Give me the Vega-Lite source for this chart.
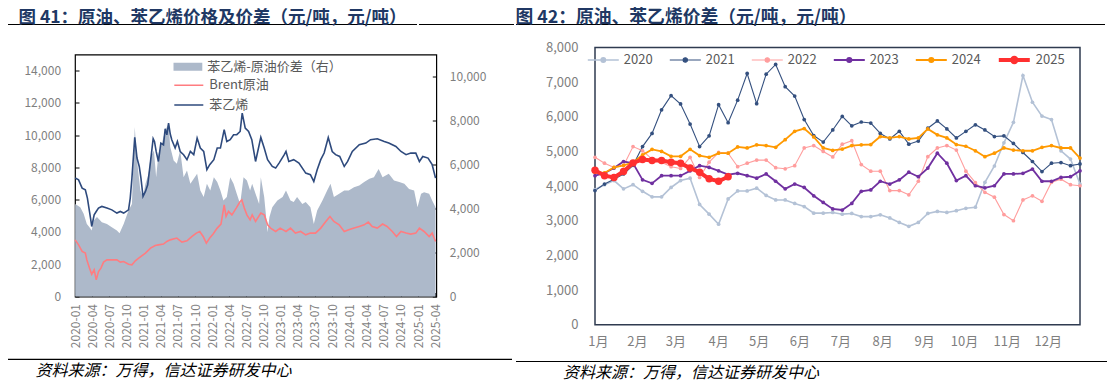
{
  "$schema": "https://vega.github.io/schema/vega-lite/v6.json",
  "padding": {"left": 7, "top": 7.5, "right": 0, "bottom": 0},
  "background": "white",
  "spacing": 0,
  "config": {
    "view": {"stroke": null},
    "font": "Noto Sans CJK SC",
    "axis": {"labelFont": "Noto Sans CJK SC"},
    "legend": {"labelFont": "Noto Sans CJK SC", "padding": 0},
    "title": {"font": "Noto Sans CJK SC"},
    "concat": {"spacing": 0}
  },
  "resolve": {"scale": {"color": "independent", "stroke": "independent", "fill": "independent", "strokeWidth": "independent", "size": "independent"}, "legend": {"color": "independent", "stroke": "independent", "fill": "independent", "strokeWidth": "independent", "size": "independent"}},
  "datasets": {
    "spread": [
      {"date": "2020-01-02", "v": 4210}, {"date": "2020-01-29", "v": 4060}, {"date": "2020-02-16", "v": 3760}, {"date": "2020-03-04", "v": 3300},
      {"date": "2020-03-18", "v": 3150}, {"date": "2020-03-30", "v": 3000}, {"date": "2020-04-09", "v": 3450}, {"date": "2020-04-27", "v": 3610},
      {"date": "2020-05-23", "v": 3380}, {"date": "2020-06-19", "v": 3300}, {"date": "2020-07-15", "v": 3150}, {"date": "2020-08-11", "v": 3000},
      {"date": "2020-08-25", "v": 2880}, {"date": "2020-09-16", "v": 3300}, {"date": "2020-10-12", "v": 3910}, {"date": "2020-10-30", "v": 4210},
      {"date": "2020-11-14", "v": 7700}, {"date": "2020-11-26", "v": 6180}, {"date": "2020-12-14", "v": 4820}, {"date": "2020-12-28", "v": 4520},
      {"date": "2021-01-10", "v": 5120}, {"date": "2021-01-27", "v": 5580}, {"date": "2021-02-06", "v": 6330}, {"date": "2021-02-24", "v": 6640},
      {"date": "2021-03-08", "v": 5420}, {"date": "2021-03-20", "v": 6480}, {"date": "2021-04-07", "v": 6940}, {"date": "2021-04-25", "v": 7550},
      {"date": "2021-05-13", "v": 7850}, {"date": "2021-05-22", "v": 6790}, {"date": "2021-06-09", "v": 6180}, {"date": "2021-06-26", "v": 6030},
      {"date": "2021-07-14", "v": 6640}, {"date": "2021-08-01", "v": 5420}, {"date": "2021-08-19", "v": 5730}, {"date": "2021-09-06", "v": 5120},
      {"date": "2021-09-24", "v": 5350}, {"date": "2021-10-12", "v": 5580}, {"date": "2021-10-29", "v": 4820}, {"date": "2021-11-16", "v": 4520},
      {"date": "2021-12-03", "v": 5120}, {"date": "2021-12-21", "v": 4820}, {"date": "2022-01-09", "v": 5420}, {"date": "2022-01-27", "v": 5200},
      {"date": "2022-02-13", "v": 4820}, {"date": "2022-03-01", "v": 4360}, {"date": "2022-03-19", "v": 4520}, {"date": "2022-04-06", "v": 5420},
      {"date": "2022-04-24", "v": 5120}, {"date": "2022-05-11", "v": 4670}, {"date": "2022-05-29", "v": 4210}, {"date": "2022-06-16", "v": 5420},
      {"date": "2022-07-04", "v": 5270}, {"date": "2022-07-21", "v": 4820}, {"date": "2022-08-01", "v": 5120}, {"date": "2022-08-19", "v": 4670},
      {"date": "2022-09-07", "v": 4210}, {"date": "2022-09-16", "v": 5420}, {"date": "2022-10-04", "v": 4520}, {"date": "2022-10-22", "v": 2920},
      {"date": "2022-11-01", "v": 3610}, {"date": "2022-11-16", "v": 4060}, {"date": "2022-12-13", "v": 4360}, {"date": "2023-01-10", "v": 4520},
      {"date": "2023-01-28", "v": 4820}, {"date": "2023-02-21", "v": 4360}, {"date": "2023-03-10", "v": 4290}, {"date": "2023-03-28", "v": 4520},
      {"date": "2023-04-25", "v": 4210}, {"date": "2023-05-13", "v": 4290}, {"date": "2023-06-07", "v": 4060}, {"date": "2023-06-25", "v": 3300},
      {"date": "2023-07-13", "v": 3910}, {"date": "2023-08-10", "v": 4360}, {"date": "2023-09-04", "v": 4820}, {"date": "2023-09-22", "v": 5120},
      {"date": "2023-10-10", "v": 4520}, {"date": "2023-11-07", "v": 4670}, {"date": "2023-12-04", "v": 4820}, {"date": "2023-12-28", "v": 4820},
      {"date": "2024-01-25", "v": 4970}, {"date": "2024-02-22", "v": 5050}, {"date": "2024-03-19", "v": 5200}, {"date": "2024-04-16", "v": 5350},
      {"date": "2024-05-10", "v": 5420}, {"date": "2024-06-04", "v": 5800}, {"date": "2024-06-25", "v": 5420}, {"date": "2024-07-28", "v": 5580},
      {"date": "2024-08-25", "v": 5270}, {"date": "2024-09-22", "v": 5200}, {"date": "2024-10-19", "v": 5120}, {"date": "2024-11-13", "v": 4890},
      {"date": "2024-12-10", "v": 4820}, {"date": "2024-12-28", "v": 4060}, {"date": "2025-01-16", "v": 4670}, {"date": "2025-02-01", "v": 4740},
      {"date": "2025-02-28", "v": 4670}, {"date": "2025-03-16", "v": 4360}, {"date": "2025-04-03", "v": 4060}
    ],
    "price": [
      {"date": "2020-01-02", "series": "Brent原油", "v": 3510}, {"date": "2020-01-20", "series": "Brent原油", "v": 3200}, {"date": "2020-02-08", "series": "Brent原油", "v": 2790},
      {"date": "2020-02-25", "series": "Brent原油", "v": 2690}, {"date": "2020-03-04", "series": "Brent原油", "v": 2270}, {"date": "2020-03-18", "series": "Brent原油", "v": 1760},
      {"date": "2020-03-30", "series": "Brent原油", "v": 1380}, {"date": "2020-04-12", "series": "Brent原油", "v": 1650}, {"date": "2020-04-23", "series": "Brent原油", "v": 1030},
      {"date": "2020-05-05", "series": "Brent原油", "v": 1550}, {"date": "2020-05-18", "series": "Brent原油", "v": 1760}, {"date": "2020-06-01", "series": "Brent原油", "v": 2130},
      {"date": "2020-06-19", "series": "Brent原油", "v": 2270}, {"date": "2020-07-15", "series": "Brent原油", "v": 2270}, {"date": "2020-08-11", "series": "Brent原油", "v": 2270},
      {"date": "2020-08-29", "series": "Brent原油", "v": 2130}, {"date": "2020-09-16", "series": "Brent原油", "v": 2170}, {"date": "2020-10-12", "series": "Brent原油", "v": 2000},
      {"date": "2020-10-30", "series": "Brent原油", "v": 1960}, {"date": "2020-11-17", "series": "Brent原油", "v": 2210}, {"date": "2020-12-05", "series": "Brent原油", "v": 2380},
      {"date": "2020-12-23", "series": "Brent原油", "v": 2540}, {"date": "2021-01-10", "series": "Brent原油", "v": 2690}, {"date": "2021-02-06", "series": "Brent原油", "v": 3000},
      {"date": "2021-03-03", "series": "Brent原油", "v": 3160}, {"date": "2021-03-20", "series": "Brent原油", "v": 3200}, {"date": "2021-04-16", "series": "Brent原油", "v": 3250},
      {"date": "2021-05-04", "series": "Brent原油", "v": 3410}, {"date": "2021-05-22", "series": "Brent原油", "v": 3510}, {"date": "2021-06-26", "series": "Brent原油", "v": 3620},
      {"date": "2021-07-23", "series": "Brent原油", "v": 3370}, {"date": "2021-08-19", "series": "Brent原油", "v": 3450}, {"date": "2021-09-15", "series": "Brent原油", "v": 3720},
      {"date": "2021-10-08", "series": "Brent原油", "v": 3930}, {"date": "2021-10-26", "series": "Brent原油", "v": 4030}, {"date": "2021-11-13", "series": "Brent原油", "v": 3720},
      {"date": "2021-11-30", "series": "Brent原油", "v": 3310}, {"date": "2021-12-18", "series": "Brent原油", "v": 3620}, {"date": "2022-01-05", "series": "Brent原油", "v": 3870},
      {"date": "2022-01-27", "series": "Brent原油", "v": 4240}, {"date": "2022-02-16", "series": "Brent原油", "v": 4490}, {"date": "2022-03-05", "series": "Brent原油", "v": 5680},
      {"date": "2022-03-15", "series": "Brent原油", "v": 4960}, {"date": "2022-03-28", "series": "Brent原油", "v": 5270}, {"date": "2022-04-15", "series": "Brent原油", "v": 5060},
      {"date": "2022-05-08", "series": "Brent原油", "v": 5480}, {"date": "2022-05-29", "series": "Brent原油", "v": 5890}, {"date": "2022-06-07", "series": "Brent原油", "v": 5990},
      {"date": "2022-06-20", "series": "Brent原油", "v": 5480}, {"date": "2022-07-04", "series": "Brent原油", "v": 5060}, {"date": "2022-07-21", "series": "Brent原油", "v": 4750},
      {"date": "2022-08-01", "series": "Brent原油", "v": 5060}, {"date": "2022-08-19", "series": "Brent原油", "v": 4650}, {"date": "2022-09-16", "series": "Brent原油", "v": 5170},
      {"date": "2022-10-04", "series": "Brent原油", "v": 5060}, {"date": "2022-10-22", "series": "Brent原油", "v": 4440}, {"date": "2022-11-07", "series": "Brent原油", "v": 4240},
      {"date": "2022-12-04", "series": "Brent原油", "v": 4030}, {"date": "2022-12-28", "series": "Brent原油", "v": 4240}, {"date": "2023-01-28", "series": "Brent原油", "v": 4030},
      {"date": "2023-02-21", "series": "Brent原油", "v": 4240}, {"date": "2023-03-19", "series": "Brent原油", "v": 3930}, {"date": "2023-04-16", "series": "Brent原油", "v": 4030},
      {"date": "2023-05-13", "series": "Brent原油", "v": 3820}, {"date": "2023-06-07", "series": "Brent原油", "v": 3930}, {"date": "2023-07-04", "series": "Brent原油", "v": 3930},
      {"date": "2023-08-01", "series": "Brent原油", "v": 4240}, {"date": "2023-08-28", "series": "Brent原油", "v": 4650}, {"date": "2023-09-19", "series": "Brent原油", "v": 4960},
      {"date": "2023-10-10", "series": "Brent原油", "v": 4650}, {"date": "2023-11-07", "series": "Brent原油", "v": 4440}, {"date": "2023-12-04", "series": "Brent原油", "v": 4030},
      {"date": "2023-12-28", "series": "Brent原油", "v": 4130}, {"date": "2024-01-25", "series": "Brent原油", "v": 4240}, {"date": "2024-02-22", "series": "Brent原油", "v": 4340},
      {"date": "2024-03-19", "series": "Brent原油", "v": 4440}, {"date": "2024-04-10", "series": "Brent原油", "v": 4610}, {"date": "2024-05-01", "series": "Brent原油", "v": 4340},
      {"date": "2024-05-28", "series": "Brent原油", "v": 4240}, {"date": "2024-06-25", "series": "Brent原油", "v": 4490}, {"date": "2024-07-19", "series": "Brent原油", "v": 4340},
      {"date": "2024-08-16", "series": "Brent原油", "v": 4030}, {"date": "2024-09-07", "series": "Brent原油", "v": 3720}, {"date": "2024-10-01", "series": "Brent原油", "v": 4030},
      {"date": "2024-10-28", "series": "Brent原油", "v": 3930}, {"date": "2024-11-22", "series": "Brent原油", "v": 3870}, {"date": "2024-12-19", "series": "Brent原油", "v": 3930},
      {"date": "2025-01-07", "series": "Brent原油", "v": 4240}, {"date": "2025-02-01", "series": "Brent原油", "v": 4030}, {"date": "2025-02-28", "series": "Brent原油", "v": 3720},
      {"date": "2025-03-16", "series": "Brent原油", "v": 3930}, {"date": "2025-04-03", "series": "Brent原油", "v": 3410},
      {"date": "2020-01-02", "series": "苯乙烯", "v": 7340}, {"date": "2020-01-20", "series": "苯乙烯", "v": 7230}, {"date": "2020-02-08", "series": "苯乙烯", "v": 6720},
      {"date": "2020-02-25", "series": "苯乙烯", "v": 6610}, {"date": "2020-03-07", "series": "苯乙烯", "v": 6100}, {"date": "2020-03-18", "series": "苯乙烯", "v": 5270},
      {"date": "2020-03-25", "series": "苯乙烯", "v": 4750}, {"date": "2020-03-30", "series": "苯乙烯", "v": 4340}, {"date": "2020-04-12", "series": "苯乙烯", "v": 5060},
      {"date": "2020-04-23", "series": "苯乙烯", "v": 5270}, {"date": "2020-05-05", "series": "苯乙烯", "v": 5480}, {"date": "2020-05-23", "series": "苯乙烯", "v": 5580},
      {"date": "2020-06-19", "series": "苯乙烯", "v": 5480}, {"date": "2020-07-15", "series": "苯乙烯", "v": 5370}, {"date": "2020-08-11", "series": "苯乙烯", "v": 5170},
      {"date": "2020-08-29", "series": "苯乙烯", "v": 5270}, {"date": "2020-09-16", "series": "苯乙烯", "v": 5170}, {"date": "2020-10-12", "series": "苯乙烯", "v": 5370},
      {"date": "2020-10-21", "series": "苯乙烯", "v": 6100}, {"date": "2020-10-30", "series": "苯乙烯", "v": 7340}, {"date": "2020-11-14", "series": "苯乙烯", "v": 9860},
      {"date": "2020-11-26", "series": "苯乙烯", "v": 8580}, {"date": "2020-12-08", "series": "苯乙烯", "v": 8060}, {"date": "2020-12-17", "series": "苯乙烯", "v": 7340},
      {"date": "2020-12-28", "series": "苯乙烯", "v": 6200}, {"date": "2021-01-10", "series": "苯乙烯", "v": 6510}, {"date": "2021-01-22", "series": "苯乙烯", "v": 6920},
      {"date": "2021-02-06", "series": "苯乙烯", "v": 8370}, {"date": "2021-02-20", "series": "苯乙烯", "v": 9780}, {"date": "2021-02-27", "series": "苯乙烯", "v": 9610},
      {"date": "2021-03-08", "series": "苯乙烯", "v": 8990}, {"date": "2021-03-20", "series": "苯乙烯", "v": 8370}, {"date": "2021-04-02", "series": "苯乙烯", "v": 9510},
      {"date": "2021-04-16", "series": "苯乙烯", "v": 9400}, {"date": "2021-04-25", "series": "苯乙烯", "v": 10400}, {"date": "2021-05-04", "series": "苯乙烯", "v": 10020},
      {"date": "2021-05-13", "series": "苯乙烯", "v": 10750}, {"date": "2021-05-22", "series": "苯乙烯", "v": 10070}, {"date": "2021-05-30", "series": "苯乙烯", "v": 9720},
      {"date": "2021-06-17", "series": "苯乙烯", "v": 9200}, {"date": "2021-06-29", "series": "苯乙烯", "v": 9610}, {"date": "2021-07-14", "series": "苯乙烯", "v": 8990},
      {"date": "2021-08-01", "series": "苯乙烯", "v": 8790}, {"date": "2021-08-19", "series": "苯乙烯", "v": 8480}, {"date": "2021-09-06", "series": "苯乙烯", "v": 8990},
      {"date": "2021-09-24", "series": "苯乙烯", "v": 8790}, {"date": "2021-10-12", "series": "苯乙烯", "v": 9820}, {"date": "2021-10-29", "series": "苯乙烯", "v": 9200},
      {"date": "2021-11-16", "series": "苯乙烯", "v": 8990}, {"date": "2021-12-03", "series": "苯乙烯", "v": 7860}, {"date": "2021-12-18", "series": "苯乙烯", "v": 8170},
      {"date": "2022-01-09", "series": "苯乙烯", "v": 8480}, {"date": "2022-01-27", "series": "苯乙烯", "v": 9200}, {"date": "2022-02-13", "series": "苯乙烯", "v": 9200},
      {"date": "2022-03-05", "series": "苯乙烯", "v": 10340}, {"date": "2022-03-19", "series": "苯乙烯", "v": 9610}, {"date": "2022-04-06", "series": "苯乙烯", "v": 9720},
      {"date": "2022-04-24", "series": "苯乙烯", "v": 10030}, {"date": "2022-05-11", "series": "苯乙烯", "v": 10030}, {"date": "2022-05-29", "series": "苯乙烯", "v": 10230},
      {"date": "2022-06-09", "series": "苯乙烯", "v": 11370}, {"date": "2022-06-25", "series": "苯乙烯", "v": 10440}, {"date": "2022-07-13", "series": "苯乙烯", "v": 10230},
      {"date": "2022-07-30", "series": "苯乙烯", "v": 9720}, {"date": "2022-08-19", "series": "苯乙烯", "v": 8370}, {"date": "2022-09-16", "series": "苯乙烯", "v": 9860},
      {"date": "2022-10-04", "series": "苯乙烯", "v": 9200}, {"date": "2022-10-22", "series": "苯乙烯", "v": 8480}, {"date": "2022-11-16", "series": "苯乙烯", "v": 8060},
      {"date": "2022-12-04", "series": "苯乙烯", "v": 7960}, {"date": "2022-12-22", "series": "苯乙烯", "v": 8270}, {"date": "2023-01-19", "series": "苯乙烯", "v": 8790},
      {"date": "2023-01-28", "series": "苯乙烯", "v": 8990}, {"date": "2023-02-12", "series": "苯乙烯", "v": 8370}, {"date": "2023-03-10", "series": "苯乙烯", "v": 8480},
      {"date": "2023-04-07", "series": "苯乙烯", "v": 8270}, {"date": "2023-05-13", "series": "苯乙烯", "v": 7650}, {"date": "2023-06-07", "series": "苯乙烯", "v": 7550},
      {"date": "2023-06-25", "series": "苯乙烯", "v": 7130}, {"date": "2023-07-13", "series": "苯乙烯", "v": 7860}, {"date": "2023-08-01", "series": "苯乙烯", "v": 8480},
      {"date": "2023-08-19", "series": "苯乙烯", "v": 8890}, {"date": "2023-09-10", "series": "苯乙烯", "v": 9860}, {"date": "2023-10-01", "series": "苯乙烯", "v": 8990},
      {"date": "2023-10-19", "series": "苯乙烯", "v": 8790}, {"date": "2023-11-10", "series": "苯乙烯", "v": 8680}, {"date": "2023-12-04", "series": "苯乙烯", "v": 8060},
      {"date": "2023-12-22", "series": "苯乙烯", "v": 8370}, {"date": "2024-01-16", "series": "苯乙烯", "v": 8990}, {"date": "2024-02-22", "series": "苯乙烯", "v": 9410},
      {"date": "2024-03-28", "series": "苯乙烯", "v": 9510}, {"date": "2024-04-22", "series": "苯乙烯", "v": 9720}, {"date": "2024-05-28", "series": "苯乙烯", "v": 9780},
      {"date": "2024-07-04", "series": "苯乙烯", "v": 9610}, {"date": "2024-07-28", "series": "苯乙烯", "v": 9510}, {"date": "2024-09-04", "series": "苯乙烯", "v": 9300},
      {"date": "2024-10-01", "series": "苯乙烯", "v": 8990}, {"date": "2024-10-28", "series": "苯乙烯", "v": 8790}, {"date": "2024-11-22", "series": "苯乙烯", "v": 8890},
      {"date": "2024-12-19", "series": "苯乙烯", "v": 8890}, {"date": "2025-01-07", "series": "苯乙烯", "v": 8370}, {"date": "2025-01-25", "series": "苯乙烯", "v": 8680},
      {"date": "2025-02-22", "series": "苯乙烯", "v": 8580}, {"date": "2025-03-16", "series": "苯乙烯", "v": 8170}, {"date": "2025-04-03", "series": "苯乙烯", "v": 7340}
    ],
    "weekly": [
      {"year": "2020", "week": 1, "v": 3900}, {"year": "2020", "week": 2, "v": 4040}, {"year": "2020", "week": 3, "v": 4160}, {"year": "2020", "week": 4, "v": 3920},
      {"year": "2020", "week": 5, "v": 4040}, {"year": "2020", "week": 6, "v": 3850}, {"year": "2020", "week": 7, "v": 3690}, {"year": "2020", "week": 8, "v": 3690},
      {"year": "2020", "week": 9, "v": 3960}, {"year": "2020", "week": 10, "v": 4160}, {"year": "2020", "week": 11, "v": 4230}, {"year": "2020", "week": 12, "v": 3470},
      {"year": "2020", "week": 13, "v": 3190}, {"year": "2020", "week": 14, "v": 2900}, {"year": "2020", "week": 15, "v": 3630}, {"year": "2020", "week": 16, "v": 3860},
      {"year": "2020", "week": 17, "v": 3860}, {"year": "2020", "week": 18, "v": 3940}, {"year": "2020", "week": 19, "v": 3730}, {"year": "2020", "week": 20, "v": 3600},
      {"year": "2020", "week": 21, "v": 3600}, {"year": "2020", "week": 22, "v": 3500}, {"year": "2020", "week": 23, "v": 3410}, {"year": "2020", "week": 24, "v": 3220},
      {"year": "2020", "week": 25, "v": 3220}, {"year": "2020", "week": 26, "v": 3240}, {"year": "2020", "week": 27, "v": 3190}, {"year": "2020", "week": 28, "v": 3210},
      {"year": "2020", "week": 29, "v": 3120}, {"year": "2020", "week": 30, "v": 3120}, {"year": "2020", "week": 31, "v": 3170}, {"year": "2020", "week": 32, "v": 3080},
      {"year": "2020", "week": 33, "v": 2950}, {"year": "2020", "week": 34, "v": 2840}, {"year": "2020", "week": 35, "v": 2950}, {"year": "2020", "week": 36, "v": 3210},
      {"year": "2020", "week": 37, "v": 3270}, {"year": "2020", "week": 38, "v": 3240}, {"year": "2020", "week": 39, "v": 3290}, {"year": "2020", "week": 40, "v": 3360},
      {"year": "2020", "week": 41, "v": 3390}, {"year": "2020", "week": 42, "v": 4110}, {"year": "2020", "week": 43, "v": 4580}, {"year": "2020", "week": 44, "v": 5250},
      {"year": "2020", "week": 45, "v": 5840}, {"year": "2020", "week": 46, "v": 7190}, {"year": "2020", "week": 47, "v": 6420}, {"year": "2020", "week": 48, "v": 6020},
      {"year": "2020", "week": 49, "v": 5920}, {"year": "2020", "week": 50, "v": 5020}, {"year": "2020", "week": 51, "v": 4780}, {"year": "2020", "week": 52, "v": 4060},
      {"year": "2021", "week": 1, "v": 3870}, {"year": "2021", "week": 2, "v": 4060}, {"year": "2021", "week": 3, "v": 4200}, {"year": "2021", "week": 4, "v": 4350},
      {"year": "2021", "week": 5, "v": 4600}, {"year": "2021", "week": 6, "v": 5140}, {"year": "2021", "week": 7, "v": 5520}, {"year": "2021", "week": 8, "v": 6200},
      {"year": "2021", "week": 9, "v": 6610}, {"year": "2021", "week": 10, "v": 6370}, {"year": "2021", "week": 11, "v": 5790}, {"year": "2021", "week": 12, "v": 5140},
      {"year": "2021", "week": 13, "v": 5450}, {"year": "2021", "week": 14, "v": 6350}, {"year": "2021", "week": 15, "v": 5830}, {"year": "2021", "week": 16, "v": 6480},
      {"year": "2021", "week": 17, "v": 7250}, {"year": "2021", "week": 18, "v": 6380}, {"year": "2021", "week": 19, "v": 7230}, {"year": "2021", "week": 20, "v": 7510},
      {"year": "2021", "week": 21, "v": 6870}, {"year": "2021", "week": 22, "v": 6600}, {"year": "2021", "week": 23, "v": 5920}, {"year": "2021", "week": 24, "v": 5460},
      {"year": "2021", "week": 25, "v": 5270}, {"year": "2021", "week": 26, "v": 5620}, {"year": "2021", "week": 27, "v": 6010}, {"year": "2021", "week": 28, "v": 5740},
      {"year": "2021", "week": 29, "v": 5850}, {"year": "2021", "week": 30, "v": 5820}, {"year": "2021", "week": 31, "v": 5520}, {"year": "2021", "week": 32, "v": 5360},
      {"year": "2021", "week": 33, "v": 5580}, {"year": "2021", "week": 34, "v": 5210}, {"year": "2021", "week": 35, "v": 5300}, {"year": "2021", "week": 36, "v": 5670},
      {"year": "2021", "week": 37, "v": 5880}, {"year": "2021", "week": 38, "v": 5650}, {"year": "2021", "week": 39, "v": 5390}, {"year": "2021", "week": 40, "v": 5580},
      {"year": "2021", "week": 41, "v": 5770}, {"year": "2021", "week": 42, "v": 5620}, {"year": "2021", "week": 43, "v": 5430}, {"year": "2021", "week": 44, "v": 5450},
      {"year": "2021", "week": 45, "v": 5230}, {"year": "2021", "week": 46, "v": 4970}, {"year": "2021", "week": 47, "v": 4710}, {"year": "2021", "week": 48, "v": 4420},
      {"year": "2021", "week": 49, "v": 4660}, {"year": "2021", "week": 50, "v": 4680}, {"year": "2021", "week": 51, "v": 4590}, {"year": "2021", "week": 52, "v": 4640},
      {"year": "2022", "week": 1, "v": 4830}, {"year": "2022", "week": 2, "v": 4660}, {"year": "2022", "week": 3, "v": 4540}, {"year": "2022", "week": 4, "v": 4590},
      {"year": "2022", "week": 5, "v": 5140}, {"year": "2022", "week": 6, "v": 5020}, {"year": "2022", "week": 7, "v": 4780}, {"year": "2022", "week": 8, "v": 4690},
      {"year": "2022", "week": 9, "v": 4560}, {"year": "2022", "week": 10, "v": 4510}, {"year": "2022", "week": 11, "v": 4830}, {"year": "2022", "week": 12, "v": 4250},
      {"year": "2022", "week": 13, "v": 4690}, {"year": "2022", "week": 14, "v": 4970}, {"year": "2022", "week": 15, "v": 4950}, {"year": "2022", "week": 16, "v": 4560},
      {"year": "2022", "week": 17, "v": 4660}, {"year": "2022", "week": 18, "v": 4750}, {"year": "2022", "week": 19, "v": 4750}, {"year": "2022", "week": 20, "v": 4530},
      {"year": "2022", "week": 21, "v": 4500}, {"year": "2022", "week": 22, "v": 4590}, {"year": "2022", "week": 23, "v": 5100}, {"year": "2022", "week": 24, "v": 5170},
      {"year": "2022", "week": 25, "v": 5000}, {"year": "2022", "week": 26, "v": 4840}, {"year": "2022", "week": 27, "v": 5210}, {"year": "2022", "week": 28, "v": 5310},
      {"year": "2022", "week": 29, "v": 4620}, {"year": "2022", "week": 30, "v": 4430}, {"year": "2022", "week": 31, "v": 4430}, {"year": "2022", "week": 32, "v": 3870},
      {"year": "2022", "week": 33, "v": 3870}, {"year": "2022", "week": 34, "v": 3750}, {"year": "2022", "week": 35, "v": 4140}, {"year": "2022", "week": 36, "v": 4850},
      {"year": "2022", "week": 37, "v": 5100}, {"year": "2022", "week": 38, "v": 5170}, {"year": "2022", "week": 39, "v": 5040}, {"year": "2022", "week": 40, "v": 4430},
      {"year": "2022", "week": 41, "v": 4100}, {"year": "2022", "week": 42, "v": 3820}, {"year": "2022", "week": 43, "v": 3680}, {"year": "2022", "week": 44, "v": 3180},
      {"year": "2022", "week": 45, "v": 3000}, {"year": "2022", "week": 46, "v": 3600}, {"year": "2022", "week": 47, "v": 3720}, {"year": "2022", "week": 48, "v": 3560},
      {"year": "2022", "week": 49, "v": 4110}, {"year": "2022", "week": 50, "v": 4200}, {"year": "2022", "week": 51, "v": 4040}, {"year": "2022", "week": 52, "v": 4010},
      {"year": "2023", "week": 1, "v": 4300}, {"year": "2023", "week": 2, "v": 4370}, {"year": "2023", "week": 3, "v": 4520}, {"year": "2023", "week": 4, "v": 4710},
      {"year": "2023", "week": 5, "v": 4660}, {"year": "2023", "week": 6, "v": 4180}, {"year": "2023", "week": 7, "v": 4080}, {"year": "2023", "week": 8, "v": 4300},
      {"year": "2023", "week": 9, "v": 4300}, {"year": "2023", "week": 10, "v": 4300}, {"year": "2023", "week": 11, "v": 4440}, {"year": "2023", "week": 12, "v": 4590},
      {"year": "2023", "week": 13, "v": 4540}, {"year": "2023", "week": 14, "v": 4440}, {"year": "2023", "week": 15, "v": 4330}, {"year": "2023", "week": 16, "v": 4370},
      {"year": "2023", "week": 17, "v": 4300}, {"year": "2023", "week": 18, "v": 4230}, {"year": "2023", "week": 19, "v": 4350}, {"year": "2023", "week": 20, "v": 4140},
      {"year": "2023", "week": 21, "v": 3920}, {"year": "2023", "week": 22, "v": 4060}, {"year": "2023", "week": 23, "v": 3960}, {"year": "2023", "week": 24, "v": 3720},
      {"year": "2023", "week": 25, "v": 3530}, {"year": "2023", "week": 26, "v": 3340}, {"year": "2023", "week": 27, "v": 3310}, {"year": "2023", "week": 28, "v": 3500},
      {"year": "2023", "week": 29, "v": 3850}, {"year": "2023", "week": 30, "v": 3890}, {"year": "2023", "week": 31, "v": 4140}, {"year": "2023", "week": 32, "v": 4060},
      {"year": "2023", "week": 33, "v": 4180}, {"year": "2023", "week": 34, "v": 4400}, {"year": "2023", "week": 35, "v": 4270}, {"year": "2023", "week": 36, "v": 4520},
      {"year": "2023", "week": 37, "v": 4950}, {"year": "2023", "week": 38, "v": 4660}, {"year": "2023", "week": 39, "v": 4160}, {"year": "2023", "week": 40, "v": 4300},
      {"year": "2023", "week": 41, "v": 4010}, {"year": "2023", "week": 42, "v": 3950}, {"year": "2023", "week": 43, "v": 4010}, {"year": "2023", "week": 44, "v": 4350},
      {"year": "2023", "week": 45, "v": 4350}, {"year": "2023", "week": 46, "v": 4370}, {"year": "2023", "week": 47, "v": 4490}, {"year": "2023", "week": 48, "v": 4140},
      {"year": "2023", "week": 49, "v": 4140}, {"year": "2023", "week": 50, "v": 4250}, {"year": "2023", "week": 51, "v": 4270}, {"year": "2023", "week": 52, "v": 4440},
      {"year": "2024", "week": 1, "v": 4400}, {"year": "2024", "week": 2, "v": 4380}, {"year": "2024", "week": 3, "v": 4540}, {"year": "2024", "week": 4, "v": 4600},
      {"year": "2024", "week": 5, "v": 4680}, {"year": "2024", "week": 6, "v": 4900}, {"year": "2024", "week": 7, "v": 5060}, {"year": "2024", "week": 8, "v": 5000},
      {"year": "2024", "week": 9, "v": 4860}, {"year": "2024", "week": 10, "v": 4860}, {"year": "2024", "week": 11, "v": 5060}, {"year": "2024", "week": 12, "v": 4880},
      {"year": "2024", "week": 13, "v": 4830}, {"year": "2024", "week": 14, "v": 4950}, {"year": "2024", "week": 15, "v": 4950}, {"year": "2024", "week": 16, "v": 5130},
      {"year": "2024", "week": 17, "v": 5100}, {"year": "2024", "week": 18, "v": 5190}, {"year": "2024", "week": 19, "v": 5170}, {"year": "2024", "week": 20, "v": 5120},
      {"year": "2024", "week": 21, "v": 5340}, {"year": "2024", "week": 22, "v": 5580}, {"year": "2024", "week": 23, "v": 5660}, {"year": "2024", "week": 24, "v": 5420},
      {"year": "2024", "week": 25, "v": 5100}, {"year": "2024", "week": 26, "v": 5030}, {"year": "2024", "week": 27, "v": 5070}, {"year": "2024", "week": 28, "v": 5170},
      {"year": "2024", "week": 29, "v": 5190}, {"year": "2024", "week": 30, "v": 5200}, {"year": "2024", "week": 31, "v": 5430}, {"year": "2024", "week": 32, "v": 5390},
      {"year": "2024", "week": 33, "v": 5430}, {"year": "2024", "week": 34, "v": 5360}, {"year": "2024", "week": 35, "v": 5390}, {"year": "2024", "week": 36, "v": 5650},
      {"year": "2024", "week": 37, "v": 5480}, {"year": "2024", "week": 38, "v": 5390}, {"year": "2024", "week": 39, "v": 5200}, {"year": "2024", "week": 40, "v": 5150},
      {"year": "2024", "week": 41, "v": 5020}, {"year": "2024", "week": 42, "v": 4850}, {"year": "2024", "week": 43, "v": 4950}, {"year": "2024", "week": 44, "v": 5100},
      {"year": "2024", "week": 45, "v": 5040}, {"year": "2024", "week": 46, "v": 5020}, {"year": "2024", "week": 47, "v": 5020}, {"year": "2024", "week": 48, "v": 5120},
      {"year": "2024", "week": 49, "v": 5170}, {"year": "2024", "week": 50, "v": 5100}, {"year": "2024", "week": 51, "v": 5100}, {"year": "2024", "week": 52, "v": 4810},
      {"year": "2025", "week": 1, "v": 4460}, {"year": "2025", "week": 2, "v": 4300}, {"year": "2025", "week": 3, "v": 4250}, {"year": "2025", "week": 4, "v": 4420},
      {"year": "2025", "week": 5, "v": 4670}, {"year": "2025", "week": 6, "v": 4770}, {"year": "2025", "week": 7, "v": 4740}, {"year": "2025", "week": 8, "v": 4740},
      {"year": "2025", "week": 9, "v": 4690}, {"year": "2025", "week": 10, "v": 4660}, {"year": "2025", "week": 11, "v": 4520}, {"year": "2025", "week": 12, "v": 4400},
      {"year": "2025", "week": 13, "v": 4210}, {"year": "2025", "week": 14, "v": 4140}, {"year": "2025", "week": 15, "v": 4270}
    ]
  },
  "hconcat": [
    {
      "resolve": {"scale": {"color": "independent", "stroke": "independent", "fill": "independent", "strokeWidth": "independent", "size": "independent"}, "legend": {"color": "independent", "stroke": "independent", "fill": "independent", "strokeWidth": "independent", "size": "independent"}},
      "vconcat": [
        {
          "hconcat": [
            {
              "width": 409, "height": 28.5,
              "title": {"text": "图 41：原油、苯乙烯价格及价差（元/吨，元/吨）", "orient": "top", "anchor": "middle", "frame": "group", "offset": -2.4, "fontSize": 17.5, "fontWeight": "bold", "color": "#203864"},
              "data": {"values": [{}]},
              "mark": {"type": "rule", "color": "#000000", "strokeWidth": 1.2},
              "encoding": {"y": {"datum": 1, "type": "quantitative", "scale": {"domain": [0, 1]}, "axis": null}}
            },
            {
              "width": 95, "height": 28.5,
              "data": {"values": [{}]},
              "mark": {"type": "rule", "color": "#000000", "strokeWidth": 1.2},
              "encoding": {"y": {"datum": 1, "type": "quantitative", "scale": {"domain": [0, 1]}, "axis": null}}
            }
          ]
        },
        {
          "resolve": {"scale": {"color": "independent", "stroke": "independent", "fill": "independent", "strokeWidth": "independent", "size": "independent"}, "legend": {"color": "independent", "stroke": "independent", "fill": "independent", "strokeWidth": "independent", "size": "independent"}},
          "hconcat": [
            {"width": 1, "height": 1, "data": {"values": [{}]}, "mark": {"type": "rule", "opacity": 0}, "encoding": {}},
            {
              "width": 361.3, "height": 242,
              "view": {"stroke": "#000000", "strokeWidth": 1.2},
              "layer": [
                {
                  "data": {"name": "spread"},
                  "mark": {"type": "area", "opacity": 1},
                  "encoding": {
                    "x": {"field": "date", "type": "temporal", "scale": {"type": "utc", "domain": ["2020-01-01", "2025-04-07"]},
                      "axis": {"values": [
                        {"year": 2020, "month": 1, "date": 1, "utc": true}, {"year": 2020, "month": 4, "date": 1, "utc": true}, {"year": 2020, "month": 7, "date": 1, "utc": true}, {"year": 2020, "month": 10, "date": 1, "utc": true},
                        {"year": 2021, "month": 1, "date": 1, "utc": true}, {"year": 2021, "month": 4, "date": 1, "utc": true}, {"year": 2021, "month": 7, "date": 1, "utc": true}, {"year": 2021, "month": 10, "date": 1, "utc": true},
                        {"year": 2022, "month": 1, "date": 1, "utc": true}, {"year": 2022, "month": 4, "date": 1, "utc": true}, {"year": 2022, "month": 7, "date": 1, "utc": true}, {"year": 2022, "month": 10, "date": 1, "utc": true},
                        {"year": 2023, "month": 1, "date": 1, "utc": true}, {"year": 2023, "month": 4, "date": 1, "utc": true}, {"year": 2023, "month": 7, "date": 1, "utc": true}, {"year": 2023, "month": 10, "date": 1, "utc": true},
                        {"year": 2024, "month": 1, "date": 1, "utc": true}, {"year": 2024, "month": 4, "date": 1, "utc": true}, {"year": 2024, "month": 7, "date": 1, "utc": true}, {"year": 2024, "month": 10, "date": 1, "utc": true},
                        {"year": 2025, "month": 1, "date": 1, "utc": true}, {"year": 2025, "month": 4, "date": 1, "utc": true}],
                        "format": "%Y-%m", "labelAngle": -90, "grid": false, "domain": false, "ticks": true, "tickSize": -4, "tickColor": "#000000",
                        "labelPadding": 11, "labelFontSize": 12, "labelColor": "#7F7F7F", "minExtent": 56, "maxExtent": 56, "title": null, "labelFlush": false, "labelOverlap": false}},
                    "y": {"field": "v", "type": "quantitative", "scale": {"domain": [0, 11000], "nice": false},
                      "axis": {"orient": "right", "values": [0, 2000, 4000, 6000, 8000, 10000], "format": ",.0f", "grid": false, "domain": false, "ticks": true, "tickSize": -4, "tickColor": "#000000",
                        "labelPadding": 17, "labelFontSize": 12, "labelColor": "#7F7F7F", "minExtent": 50, "maxExtent": 50, "title": null}},
                    "color": {"datum": "苯乙烯-原油价差（右）", "type": "nominal", "scale": {"range": ["#ADB9CA"]},
                      "legend": {"orient": "none", "legendX": 98.3, "legendY": 5.2, "title": null, "symbolType": "M-1,-0.28H1V0.28H-1Z", "symbolSize": 841,
                        "labelFontSize": 13, "labelColor": "#595959", "labelOffset": 5, "clipHeight": 14, "padding": 0, "symbolStrokeWidth": 0}}
                  }
                },
                {
                  "data": {"name": "price"},
                  "mark": {"type": "line", "strokeWidth": 1.6},
                  "encoding": {
                    "x": {"field": "date", "type": "temporal", "scale": {"type": "utc", "domain": ["2020-01-01", "2025-04-07"]},
                      "axis": {"values": [
                        {"year": 2020, "month": 1, "date": 1, "utc": true}, {"year": 2020, "month": 4, "date": 1, "utc": true}, {"year": 2020, "month": 7, "date": 1, "utc": true}, {"year": 2020, "month": 10, "date": 1, "utc": true},
                        {"year": 2021, "month": 1, "date": 1, "utc": true}, {"year": 2021, "month": 4, "date": 1, "utc": true}, {"year": 2021, "month": 7, "date": 1, "utc": true}, {"year": 2021, "month": 10, "date": 1, "utc": true},
                        {"year": 2022, "month": 1, "date": 1, "utc": true}, {"year": 2022, "month": 4, "date": 1, "utc": true}, {"year": 2022, "month": 7, "date": 1, "utc": true}, {"year": 2022, "month": 10, "date": 1, "utc": true},
                        {"year": 2023, "month": 1, "date": 1, "utc": true}, {"year": 2023, "month": 4, "date": 1, "utc": true}, {"year": 2023, "month": 7, "date": 1, "utc": true}, {"year": 2023, "month": 10, "date": 1, "utc": true},
                        {"year": 2024, "month": 1, "date": 1, "utc": true}, {"year": 2024, "month": 4, "date": 1, "utc": true}, {"year": 2024, "month": 7, "date": 1, "utc": true}, {"year": 2024, "month": 10, "date": 1, "utc": true},
                        {"year": 2025, "month": 1, "date": 1, "utc": true}, {"year": 2025, "month": 4, "date": 1, "utc": true}],
                        "format": "%Y-%m", "labelAngle": -90, "grid": false, "domain": false, "ticks": true, "tickSize": -4, "tickColor": "#000000",
                        "labelPadding": 11, "labelFontSize": 12, "labelColor": "#7F7F7F", "minExtent": 56, "maxExtent": 56, "title": null, "labelFlush": false, "labelOverlap": false}},
                    "y": {"field": "v", "type": "quantitative", "scale": {"domain": [0, 15000], "nice": false},
                      "axis": {"orient": "left", "values": [0, 2000, 4000, 6000, 8000, 10000, 12000, 14000], "format": ",.0f", "grid": false, "domain": false, "ticks": true, "tickSize": -4, "tickColor": "#000000",
                        "labelPadding": 18.4, "labelFontSize": 12, "labelColor": "#7F7F7F", "minExtent": 64.7, "maxExtent": 64.7, "title": null}},
                    "stroke": {"field": "series", "type": "nominal", "scale": {"domain": ["Brent原油", "苯乙烯"], "range": ["#FF7C80", "#2E4A7D"]},
                      "legend": {"orient": "none", "legendX": 98.3, "legendY": 23.8, "title": null, "symbolType": "stroke", "symbolSize": 841, "symbolStrokeWidth": 1.6,
                        "labelFontSize": 13, "labelColor": "#595959", "labelOffset": 5, "clipHeight": 14, "rowPadding": 5.7, "padding": 0, "direction": "vertical"}}
                  }
                }
              ],
              "resolve": {"scale": {"y": "independent"}}
            }
          ]
        },
        {
          "width": 504, "height": 5.8,
          "title": {"text": "资料来源：万得，信达证券研发中心", "orient": "bottom", "anchor": "start", "dx": 28, "offset": 3, "fontSize": 16, "fontStyle": "italic", "fontWeight": "normal", "color": "#000000"},
          "data": {"values": [{}]},
          "mark": {"type": "rule", "color": "#000000", "strokeWidth": 1.2},
          "encoding": {"y": {"datum": 0, "type": "quantitative", "scale": {"domain": [0, 1]}, "axis": null}}
        }
      ]
    },
    {
      "resolve": {"scale": {"color": "independent", "stroke": "independent", "fill": "independent", "strokeWidth": "independent", "size": "independent"}, "legend": {"color": "independent", "stroke": "independent", "fill": "independent", "strokeWidth": "independent", "size": "independent"}},
      "vconcat": [
        {
          "width": 589, "height": 15.4,
          "title": {"text": "图 42：原油、苯乙烯价差（元/吨，元/吨）", "orient": "top", "anchor": "start", "offset": -2.4, "fontSize": 17.8, "fontWeight": "bold", "color": "#203864"},
          "data": {"values": [{}]},
          "mark": {"type": "rule", "color": "#000000", "strokeWidth": 1.2},
          "encoding": {"y": {"datum": 1, "type": "quantitative", "scale": {"domain": [0, 1]}, "axis": null}}
        },
        {
          "resolve": {"scale": {"color": "independent", "stroke": "independent", "fill": "independent", "strokeWidth": "independent", "size": "independent"}, "legend": {"color": "independent", "stroke": "independent", "fill": "independent", "strokeWidth": "independent", "size": "independent"}},
          "hconcat": [
            {"width": 1, "height": 1, "data": {"values": [{}]}, "mark": {"type": "rule", "opacity": 0}, "encoding": {}},
            {
              "width": 485, "height": 277.2,
              "view": {"stroke": "#2F3B50", "strokeWidth": 1.5},
              "data": {"name": "weekly"},
              "encoding": {
                "x": {"field": "week", "type": "quantitative", "scale": {"domain": [1, 52], "nice": false, "zero": false},
                  "axis": {"values": [1.3, 5.4, 9.45, 13.95, 18.2, 22.5, 26.8, 31.2, 35.6, 39.8, 44.3, 48.6], "labelExpr": "(round((datum.value - 1) / 4.3333) + 1) + '月'",
                    "grid": false, "ticks": false, "domain": false, "labelPadding": 11, "labelFontSize": 13, "labelColor": "#7F7F7F", "minExtent": 26, "maxExtent": 26, "title": null, "labelFlush": false}},
                "y": {"field": "v", "type": "quantitative", "scale": {"domain": [0, 8000], "nice": false},
                  "axis": {"values": [0, 1000, 2000, 3000, 4000, 5000, 6000, 7000, 8000], "format": ",.0f", "grid": false, "ticks": false, "domain": false,
                    "labelPadding": 17, "labelFontSize": 13, "labelColor": "#7F7F7F", "minExtent": 76.8, "maxExtent": 76.8, "title": null}}
              },
              "layer": [
                {
                  "transform": [{"filter": "datum.year != '2025'"}],
                  "mark": {"type": "line"},
                  "encoding": {
                    "stroke": {"field": "year", "type": "nominal", "scale": {"domain": ["2020", "2021", "2022", "2023", "2024", "2025"], "range": ["#B4C2D6", "#34507F", "#FF9D9D", "#7030A0", "#FF9900", "#FF3030"]},
                      "legend": {"orient": "none", "legendX": -8.2, "legendY": 5.5, "direction": "horizontal", "title": null, "symbolType": "M-1,0H1M0.14,0A0.14,0.14,0,1,1,-0.14,0A0.14,0.14,0,1,1,0.14,0Z", "symbolSize": 961,
                        "labelFontSize": 13, "labelColor": "#595959", "labelOffset": 4, "columnPadding": 16, "clipHeight": 14, "padding": 0}},
                    "strokeWidth": {"field": "year", "type": "nominal", "scale": {"type": "ordinal", "domain": ["2020", "2021", "2022", "2023", "2024", "2025"], "range": [1.6, 1.1, 1.1, 1.8, 1.8, 4]},
                      "legend": {"orient": "none", "legendX": -8.2, "legendY": 5.5, "direction": "horizontal", "title": null, "symbolType": "M-1,0H1M0.14,0A0.14,0.14,0,1,1,-0.14,0A0.14,0.14,0,1,1,0.14,0Z", "symbolSize": 961,
                        "labelFontSize": 13, "labelColor": "#595959", "labelOffset": 4, "columnPadding": 16, "clipHeight": 14, "padding": 0}}
                  }
                },
                {
                  "transform": [{"filter": "datum.year != '2025'"}],
                  "mark": {"type": "point", "filled": true, "opacity": 1, "size": 14},
                  "encoding": {
                    "fill": {"field": "year", "type": "nominal", "scale": {"domain": ["2020", "2021", "2022", "2023", "2024", "2025"], "range": ["#B4C2D6", "#34507F", "#FF9D9D", "#7030A0", "#FF9900", "#FF3030"]},
                      "legend": {"orient": "none", "legendX": -8.2, "legendY": 5.5, "direction": "horizontal", "title": null, "symbolType": "M-1,0H1M0.14,0A0.14,0.14,0,1,1,-0.14,0A0.14,0.14,0,1,1,0.14,0Z", "symbolSize": 961,
                        "labelFontSize": 13, "labelColor": "#595959", "labelOffset": 4, "columnPadding": 16, "clipHeight": 14, "padding": 0}}
                  }
                },
                {
                  "transform": [{"filter": "datum.year == '2025'"}],
                  "mark": {"type": "line", "strokeWidth": 4},
                  "encoding": {
                    "stroke": {"field": "year", "type": "nominal"}
                  }
                },
                {
                  "transform": [{"filter": "datum.year == '2025'"}],
                  "mark": {"type": "point", "filled": true, "opacity": 1, "size": 55},
                  "encoding": {
                    "fill": {"field": "year", "type": "nominal"}
                  }
                }
              ]
            }
          ]
        },
        {
          "width": 596, "height": 10,
          "title": {"text": "资料来源：万得，信达证券研发中心", "orient": "bottom", "anchor": "start", "dx": 47.7, "offset": 3, "fontSize": 16, "fontStyle": "italic", "fontWeight": "normal", "color": "#000000"},
          "data": {"values": [{}]},
          "mark": {"type": "rule", "color": "#000000", "strokeWidth": 1.2},
          "encoding": {"y": {"datum": 0, "type": "quantitative", "scale": {"domain": [0, 1]}, "axis": null}}
        }
      ]
    }
  ]
}
